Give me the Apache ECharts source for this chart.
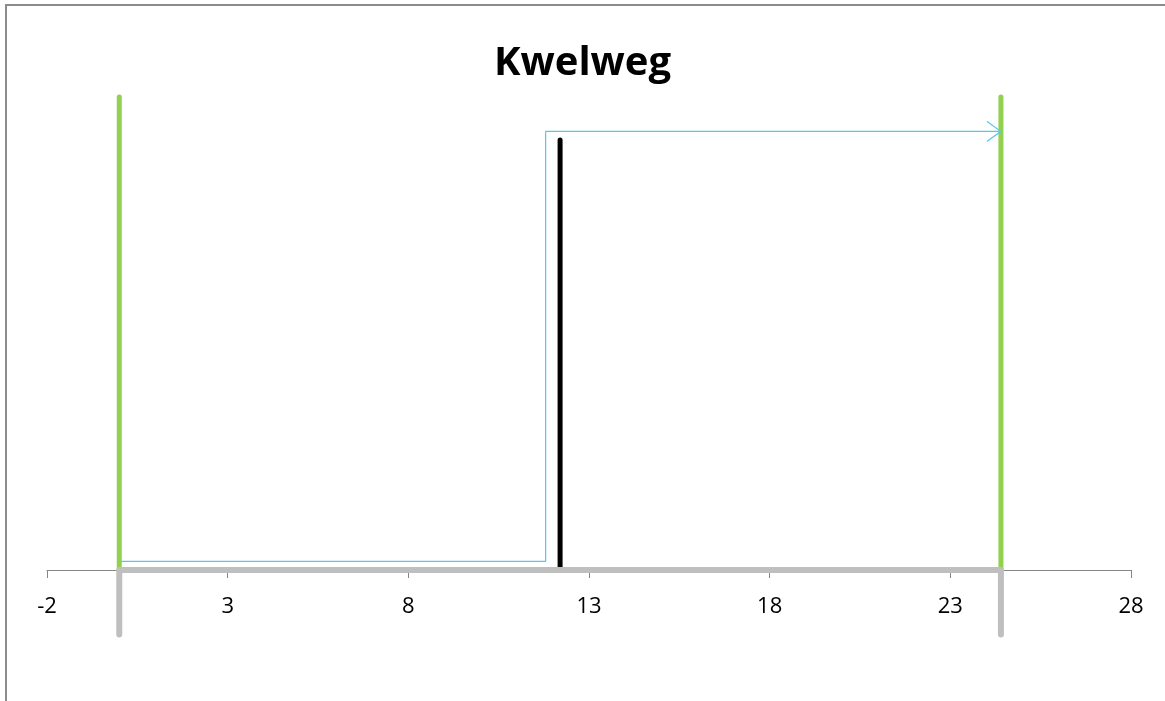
<!DOCTYPE html>
<html>
<head>
<meta charset="utf-8">
<title>Kwelweg</title>
<script src="https://cdn.jsdelivr.net/npm/echarts@6/dist/echarts.min.js"></script>
<style>
  html, body { margin: 0; padding: 0; background: #fff; }
  #chart { width: 1165px; height: 701px; }
</style>
</head>
<body>
<div id="chart"></div>
<script>
// Horizontal axis (distance)
const xMin = -2;
const xMax = 28;
const xStep = 5;

// Vertical extent (hidden axis); the base outline hangs below 0
const yMin = 0;
const yMax = 12;

// Green walls: x position and height
const leftWall = [[0, 0], [0, 11]];
const rightWall = [[24.4, 0], [24.4, 11]];

// Black sheet pile
const sheetPile = [[12.2, 0], [12.2, 10]];

// Grey base outline
const base = [[0, -1.5], [0, 0], [24.4, 0], [24.4, -1.5]];

// Seepage path (blue), arrow at its end
const seepPath = [[0, 0.2], [11.8, 0.2], [11.8, 10.2], [24.4, 10.2]];

const seepColor = '#55c6f2';

const chart = echarts.init(document.getElementById('chart'), null, { renderer: 'canvas' });

const pathData = seepPath.map((p, i) => i === seepPath.length - 1
  ? {
      value: p,
      symbol: 'path://M0,0 L10,5 L0,10',
      symbolSize: [14, 20],
      symbolOffset: [-7, 0],
      itemStyle: { color: 'none', borderColor: seepColor, borderWidth: 1 }
    }
  : { value: p });

function wall(data, color, width) {
  return {
    type: 'line',
    data: data,
    symbol: 'none',
    clip: false,
    silent: true,
    lineStyle: { color: color, width: width, cap: 'round', join: 'round' }
  };
}

chart.setOption({
  animation: false,
  backgroundColor: '#ffffff',
  title: {
    text: 'Kwelweg',
    left: 'center',
    top: 39,
    textStyle: { fontFamily: 'Open Sans', fontWeight: 'bold', fontSize: 40, color: '#000' }
  },
  graphic: [{
    type: 'rect',
    shape: { x: 6, y: 5, width: 1300, height: 900 },
    style: { fill: 'none', stroke: '#8c8c8c', lineWidth: 2 },
    silent: true
  }],
  grid: { left: 47, right: 34, top: 54, bottom: 131 },
  xAxis: {
    type: 'value',
    min: xMin,
    max: xMax,
    interval: xStep,
    axisLine: { show: true, onZero: true, lineStyle: { color: '#868686', width: 1 } },
    axisTick: { show: true, length: 8, lineStyle: { color: '#868686' } },
    axisLabel: { margin: 26, fontFamily: 'Open Sans', fontSize: 22, color: '#000' },
    splitLine: { show: false }
  },
  yAxis: {
    type: 'value',
    min: yMin,
    max: yMax,
    show: false,
    splitLine: { show: false }
  },
  series: [
    {
      type: 'line',
      data: pathData,
      symbol: 'none',
      clip: false,
      silent: true,
      lineStyle: { color: seepColor, width: 1.2 }
    },
    wall(leftWall, '#92d050', 5),
    wall(rightWall, '#92d050', 5),
    wall(sheetPile, '#000000', 5),
    wall(base, '#bfbfbf', 6)
  ]
});
</script>
</body>
</html>
